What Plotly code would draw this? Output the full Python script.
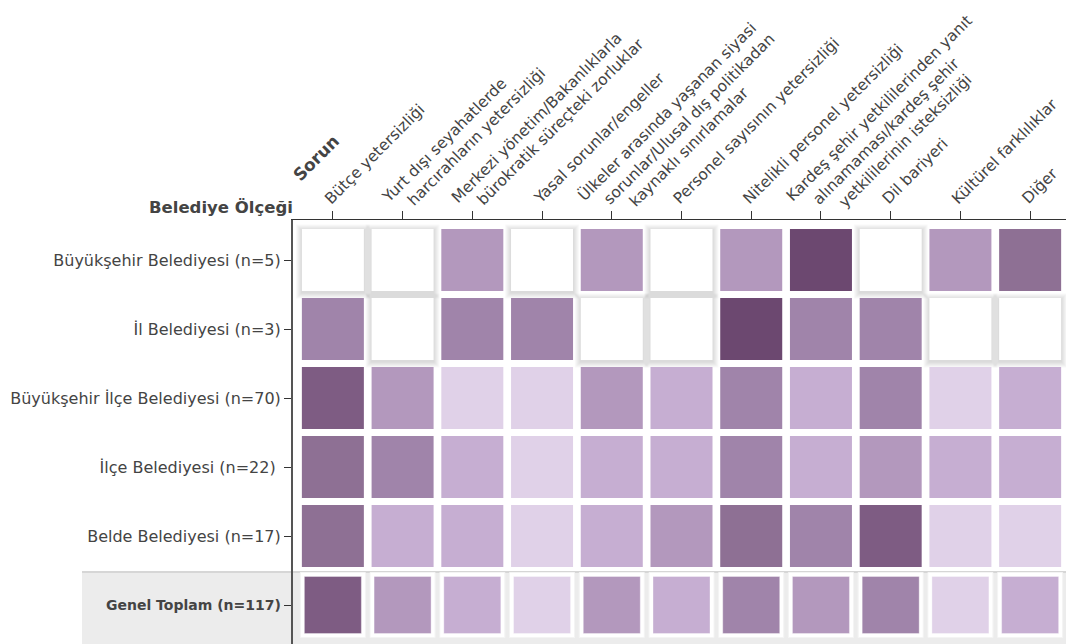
import plotly.graph_objects as go

# ---- data ----
sorunlar = [
    "Bütçe yetersizliği",
    "Yurt dışı seyahatlerde<br>harcırahların yetersizliği",
    "Merkezi yönetim/Bakanlıklarla<br>bürokratik süreçteki zorluklar",
    "Yasal sorunlar/engeller",
    "Ülkeler arasında yaşanan siyasi<br>sorunlar/Ulusal dış politikadan<br>kaynaklı sınırlamalar",
    "Personel sayısının yetersizliği",
    "Nitelikli personel yetersizliği",
    "Kardeş şehir yetkililerinden yanıt<br>alınamaması/kardeş şehir<br>yetkililerinin isteksizliği",
    "Dil bariyeri",
    "Kültürel farklılıklar",
    "Diğer",
]
belediyeler = [
    "Büyükşehir Belediyesi (n=5)",
    "İl Belediyesi (n=3)",
    "Büyükşehir İlçe Belediyesi (n=70)",
    "İlçe Belediyesi (n=22) ",
    "Belde Belediyesi (n=17)",
]
toplam_label = "Genel Toplam (n=117)"

# intensity level (0 = none ... 7 = highest) read from cell shading
buyuksehir   = [0, 0, 3, 0, 3, 0, 3, 7, 0, 3, 5]
il           = [4, 0, 4, 4, 0, 0, 7, 4, 4, 0, 0]
bs_ilce      = [6, 3, 1, 1, 3, 2, 4, 2, 4, 1, 2]
ilce         = [5, 4, 2, 1, 2, 2, 4, 2, 3, 2, 2]
belde        = [5, 2, 2, 1, 2, 3, 5, 4, 6, 1, 1]
genel_toplam = [6, 3, 2, 1, 3, 2, 4, 3, 4, 1, 2]

level_colors = ["#ffffff", "#e0d1e8", "#c6aed2", "#b398bd",
                "#a084aa", "#8e7094", "#7e5c83", "#6c4870"]

# ---- figure ----
W, H = 1066, 644
ML, MT = 293, 220
colscale = [[i / (len(level_colors) - 1), c] for i, c in enumerate(level_colors)]

rows = [buyuksehir, il, bs_ilce, ilce, belde]
nx = len(sorunlar)
ny = len(rows) + 1
xs = list(range(nx))

px_x = (W - ML) / (nx + 6 / 69.7)
px_y = (H - MT) / (ny + 10 / 69)

fig = go.Figure()

# soft shadows around the empty (white) cells
sx, sy = [], []
for r, row in enumerate(rows):
    for c, v in enumerate(row):
        if v == 0:
            sx.append(c)
            sy.append(r + 1.5 / px_y)
for k in range(6, 0, -1):
    fig.add_trace(go.Scatter(
        x=sx, y=sy, mode="markers", hoverinfo="skip", showlegend=False,
        marker=dict(symbol="square", size=62 + 2 * k,
                    color="rgba(0,0,0,0.024)", line=dict(width=0))))

# main cells
cx, cy, cz = [], [], []
for r, row in enumerate(rows):
    for c, v in enumerate(row):
        cx.append(c)
        cy.append(r)
        cz.append(v)
fig.add_trace(go.Scatter(
    x=cx, y=cy, mode="markers", hoverinfo="skip", showlegend=False,
    marker=dict(symbol="square", size=62, color=cz, colorscale=colscale,
                cmin=0, cmax=7, line=dict(width=0))))

# total row: white frames + cells
fig.add_trace(go.Scatter(
    x=xs, y=[len(rows)] * nx, mode="markers", hoverinfo="skip", showlegend=False,
    marker=dict(symbol="square", size=65, color="#ffffff",
                line=dict(width=1, color="#f4f4f4"))))
fig.add_trace(go.Scatter(
    x=xs, y=[len(rows)] * nx, mode="markers", hoverinfo="skip", showlegend=False,
    marker=dict(symbol="square", size=57, color=genel_toplam, colorscale=colscale,
                cmin=0, cmax=7, line=dict(width=1, color="rgba(255,255,255,0.35)"))))

shapes = []
band_top = len(rows) - 0.5 + 1.5 / px_y
band_x0 = (82 - ML) / (W - ML)
shapes.append(dict(type="rect", xref="paper", yref="y", x0=band_x0, x1=1,
                   y0=band_top, y1=ny - 0.5 + 5, fillcolor="#ececec",
                   line=dict(width=0), layer="below"))
shapes.append(dict(type="line", xref="paper", yref="y", x0=band_x0, x1=1,
                   y0=band_top, y1=band_top, line=dict(color="#d6d6d6", width=2),
                   layer="below"))

font_fam = "DejaVu Sans, Open Sans, sans-serif"
xfs = 15.5

# x-axis category labels: each line is its own rotated text, stacked like the original
annotations = []
box_h = 1.3 * xfs + 4
for i, lab in enumerate(sorunlar):
    lines = lab.split("<br>")
    n = len(lines)
    for j, ln in enumerate(lines):
        m = j - (n - 1) / 2
        annotations.append(dict(
            text=ln, xref="x", yref="paper", x=i, y=1,
            xanchor="left", yanchor="bottom", textangle=-45, showarrow=False,
            xshift=-2 + 26 * m + 4.6 - 0.707 * box_h,
            yshift=9.4 - 3 * m,
            font=dict(size=xfs, color="#444", family=font_fam)))

annotations += [
    dict(text="<b>Belediye Ölçeği</b>", xref="paper", yref="paper",
         x=0.002, y=1 + 13 / (H - MT), xanchor="right", yanchor="middle",
         showarrow=False, font=dict(size=16.5, color="#444", family=font_fam)),
    dict(text="<b>Sorun</b>", xref="paper", yref="paper",
         x=(316 - ML) / (W - ML), y=1 + 62 / (H - MT), xanchor="center",
         yanchor="middle", textangle=-45, showarrow=False,
         font=dict(size=17, color="#444", family=font_fam)),
    dict(text="<b>" + toplam_label + "</b>", xref="paper", yref="y",
         x=0, y=len(rows), xanchor="right", yanchor="middle", xshift=-10,
         showarrow=False, font=dict(size=14, color="#444", family=font_fam)),
]

fig.update_layout(
    width=W, height=H,
    margin=dict(l=ML, r=0, t=MT, b=0, autoexpand=False),
    paper_bgcolor="white", plot_bgcolor="rgba(0,0,0,0)",
    font=dict(family=font_fam, color="#444"),
    shapes=shapes,
    xaxis=dict(side="top", tickvals=xs, showticklabels=False,
               range=[-0.5 - 5 / 69.7, nx - 0.5 + 1 / 69.7],
               showline=True, linecolor="#333", linewidth=1,
               ticks="outside", ticklen=8, tickcolor="#333",
               showgrid=False, zeroline=False, automargin=False),
    yaxis=dict(tickvals=list(range(ny)), ticktext=belediyeler + [""],
               range=[ny - 0.5 + 4.5 / 69, -0.5 - 5.5 / 69],
               showline=True, linecolor="#555", linewidth=2,
               ticks="outside", ticklen=7, tickcolor="#333",
               showgrid=False, zeroline=False, automargin=False,
               tickfont=dict(size=16, color="#444", family=font_fam)),
    annotations=annotations,
)

fig.write_html("out.html", config={"displayModeBar": False},
               post_script="document.body.style.margin='0';")
